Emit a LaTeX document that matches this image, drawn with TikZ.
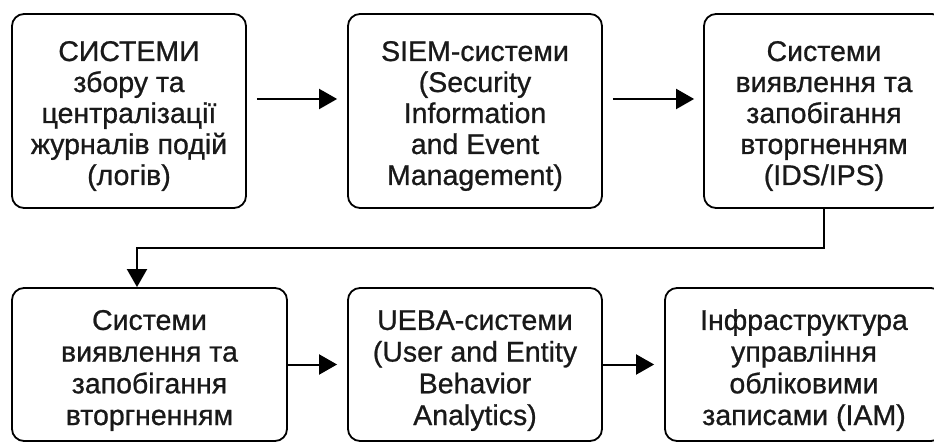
\documentclass[tikz,border=0pt]{standalone}
\usepackage{fontspec}
\setmainfont{Liberation Sans}
\newfontfamily\boxfont[FakeBold=0.8]{Liberation Sans}
\usetikzlibrary{arrows.meta,calc}

\tikzset{
  block/.style={draw=black,line width=1.8pt,rounded corners=12pt,align=center,
    inner sep=0pt,text=black!90},
  toprow/.style={block,minimum height=194pt,text height=154pt,text depth=6pt,
    font=\boxfont\fontsize{28.5}{31}\selectfont},
  botrow/.style={block,minimum height=153pt,text height=127pt,text depth=6pt,
    font=\boxfont\fontsize{28.5}{31.7}\selectfont},
  flow/.style={line width=2pt,-{Triangle[length=18pt,width=20pt]}}
}

\begin{document}
\begin{tikzpicture}[x=1pt,y=1pt]
\useasboundingbox (0,0) rectangle (934,442);

% first row
\node[toprow,minimum width=234pt] (logs) at (129,331)
  {СИСТЕМИ\\збору та\\централізації\\журналів подій\\(логів)};
\node[toprow,minimum width=254pt] (siem) at (475,331)
  {SIEM-системи\\(Security\\Information\\and Event\\Management)};
\node[toprow,minimum width=240pt] (ids) at (824,331)
  {Системи\\виявлення та\\запобігання\\вторгненням\\(IDS/IPS)};

% second row
\node[botrow,minimum width=275pt] (idsb) at (149.5,77.5)
  {Системи\\виявлення та\\запобігання\\вторгненням};
\node[botrow,minimum width=254pt] (ueba) at (475,77.5)
  {UEBA-системи\\(User and Entity\\Behavior\\Analytics)};
\node[botrow,minimum width=278pt] (iam) at (804,77.5)
  {Інфраструктура\\управління\\обліковими\\записами (IAM)};

% arrows
\draw[flow,shorten <=10pt,shorten >=10pt] ([yshift=12pt]logs.east) -- ([yshift=12pt]siem.west);
\draw[flow,shorten <=10pt,shorten >=9pt] ([yshift=12pt]siem.east) -- ([yshift=12pt]ids.west);

\coordinate (turn) at (137,194);
\draw[flow] (ids.south) |- (turn) -- (turn |- idsb.north);

\draw[flow,shorten >=10pt] (idsb.east) -- (ueba.west);
\draw[flow,shorten >=10pt] (ueba.east) -- (iam.west);

\end{tikzpicture}
\end{document}
